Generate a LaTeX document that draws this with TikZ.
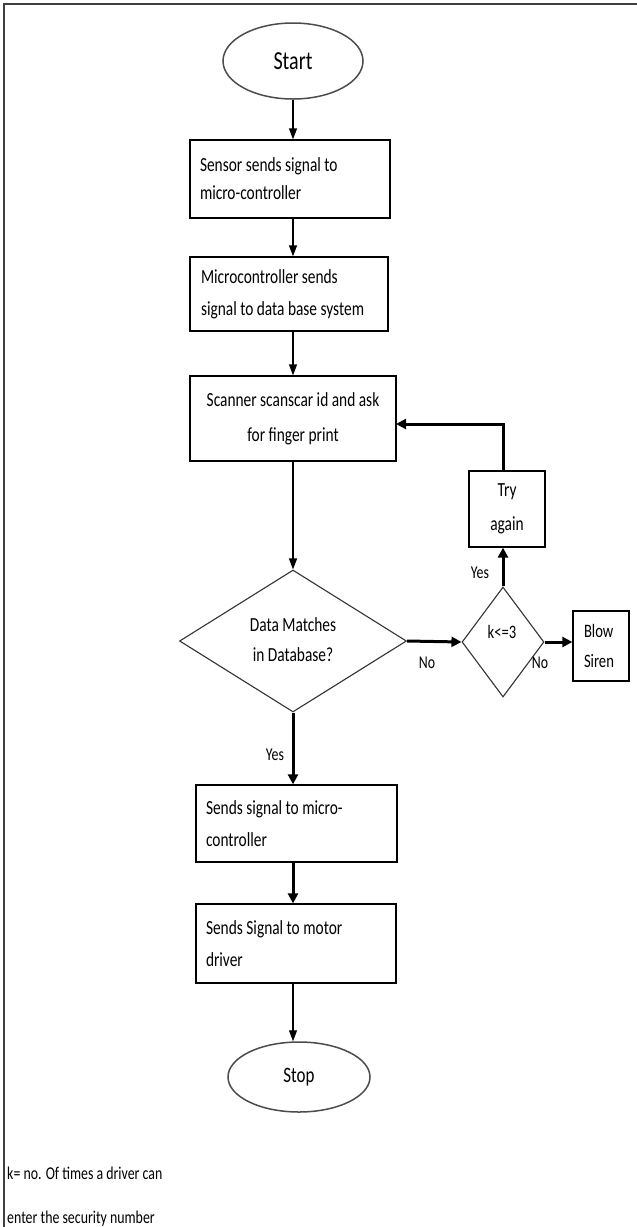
\documentclass[tikz,border=0pt]{standalone}
\usepackage{fontspec}
\setmainfont{Carlito}[FakeStretch=0.77]
\usetikzlibrary{shapes.geometric,arrows.meta}
\begin{document}
\begin{tikzpicture}[x=1pt,y=-1pt,
  stepbox/.style={draw,rectangle,line width=1.3pt,inner sep=0pt,align=flush left,
    font=\fontsize{20}{32}\selectfont},
  terminal/.style={draw=black!70,ellipse,line width=1.5pt,inner sep=0pt},
  decision/.style={draw=black!80,diamond,line width=1.1pt,inner sep=0pt},
  lbl/.style={inner sep=0pt,align=center,font=\fontsize{18}{30}\selectfont},
  thinarrow/.style={line width=1.3pt,-{Triangle[length=11pt,width=8pt]}},
  thickarrow/.style={line width=3pt,-{Triangle[length=10pt,width=10pt]}}]
\useasboundingbox (0,0) rectangle (637,1227);
\fill[white] (0,0) rectangle (637,1227);
\draw[line width=1.5pt,black!75] (637,4) -- (4,4) -- (4,1227);
\coordinate (axis) at (293,0);
% nodes
\node[terminal,minimum width=140pt,minimum height=76pt,font=\fontsize{26}{30}\selectfont] (start) at (293,61) {Start};
\node[stepbox,minimum width=200pt,minimum height=78pt,text width=180pt,font=\fontsize{20}{28}\selectfont] (b1) at (290,179) {Sensor sends signal to\\micro-controller};
\node[stepbox,minimum width=198pt,minimum height=74pt,text width=176pt] (b2) at (289,294) {Microcontroller sends\\signal to data base system};
\node[stepbox,minimum width=206pt,minimum height=85pt,align=center,font=\fontsize{20}{35}\selectfont] (b3) at (293,418.5) {Scanner scanscar id and ask\\for finger print};
\node[decision,minimum width=227pt,minimum height=142pt] (d1) at (293,641) {};
\node[lbl,font=\fontsize{20}{30}\selectfont] (d1t) at (293,640) {Data Matches\\in Database?};
\node[decision,minimum width=82pt,minimum height=110pt] (d2) at (503,642) {};
\node[lbl,font=\fontsize{19}{24}\selectfont] (d2t) at (502,632) {k<=3};
\node[stepbox,minimum width=76pt,minimum height=76pt,align=center,font=\fontsize{20}{34}\selectfont] (try) at (507,509) {Try\\again};
\node[stepbox,minimum width=56pt,minimum height=70pt,text width=34pt,font=\fontsize{19}{30}\selectfont] (siren) at (601,646) {Blow\\Siren};
\node[stepbox,minimum width=201pt,minimum height=77pt,text width=181pt] (b4) at (296.5,823.5) {Sends signal to micro-\\controller};
\node[stepbox,minimum width=200pt,minimum height=79pt,text width=180pt] (b5) at (296,943.5) {Sends Signal to motor\\driver};
\node[terminal,minimum width=142pt,minimum height=70pt,font=\fontsize{22}{26}\selectfont] (stop) at (299,1077) {Stop};
% labels
\node[lbl] (no1) at (427,663) {No};
\node[lbl] (no2) at (540,663) {No};
\node[lbl] (yes1) at (480,573) {Yes};
\node[lbl] (yes2) at (275,755) {Yes};
\node[anchor=west,inner sep=0pt,font=\fontsize{18}{20}\selectfont] (note1) at (7,1173) {k= no. Of times a driver can};
\node[anchor=west,inner sep=0pt,font=\fontsize{18}{20}\selectfont] (note2) at (7,1219) {enter the security number};
% connectors
\draw[thinarrow] (start.south) -- (start.south |- b1.north);
\draw[thinarrow] (b1.south -| axis) -- (b2.north -| axis);
\draw[thinarrow] (b2.south -| axis) -- (b3.north -| axis);
\draw[thinarrow] (b3.south -| axis) -- (d1.north);
\draw[thickarrow] (d1.south) -- (d1.south |- b4.north);
\draw[thickarrow] (b4.south -| axis) -- (b5.north -| axis);
\draw[thinarrow] (b5.south -| axis) -- (axis |- stop.north);
\draw[thickarrow] (d1.east) -- (d2.west);
\draw[thickarrow] (d2.east) -- (d2.east -| siren.west);
\draw[thickarrow] (d2.north) -- (d2.north |- try.south);
\coordinate (loopy) at (396,424);
\draw[thickarrow] (try.north -| d2.north) |- (loopy);
\end{tikzpicture}
\end{document}
